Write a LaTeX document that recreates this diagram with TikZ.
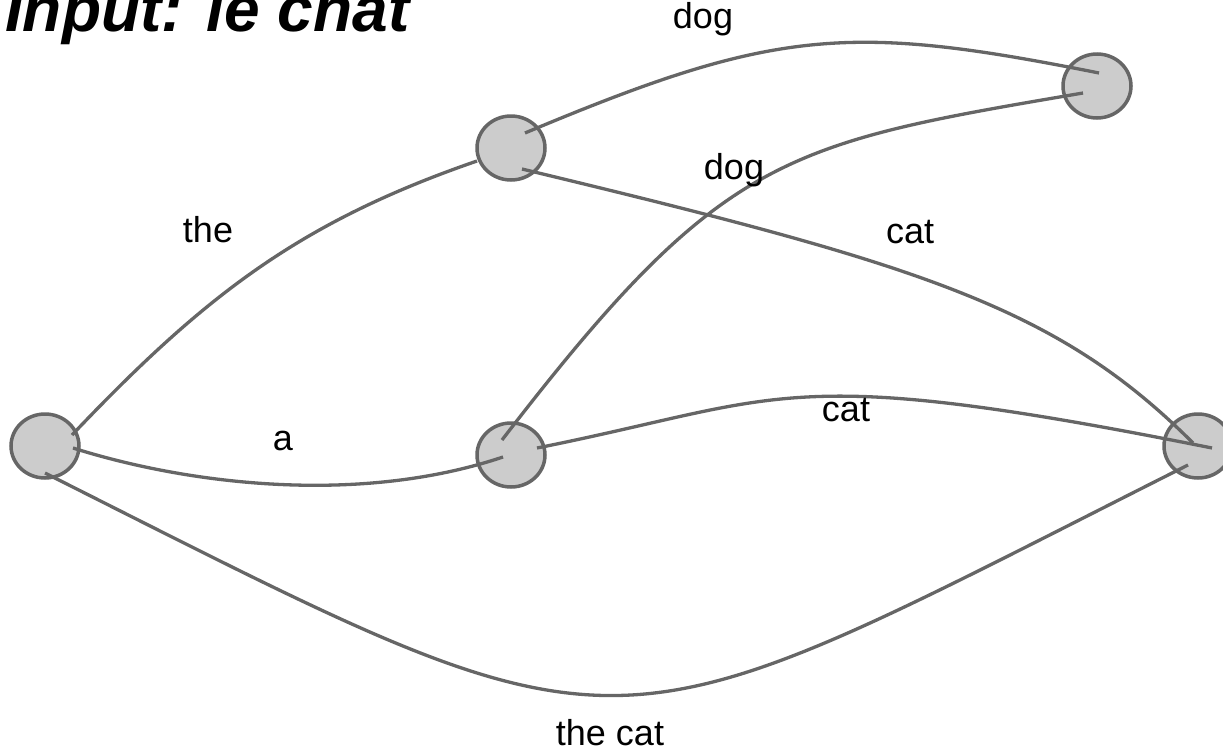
\documentclass[tikz,border=0pt]{standalone}
\usepackage{fontspec}
\setmainfont{Liberation Sans}
\usetikzlibrary{shapes.geometric,calc}
\definecolor{edgegray}{HTML}{666666}
\definecolor{nodefill}{HTML}{CCCCCC}
\tikzset{
  state/.style={ellipse, draw=edgegray, fill=nodefill, line width=3.5pt, minimum width=68pt, minimum height=64pt, inner sep=0pt},
  arc/.style={draw=edgegray, line width=3.3pt},
  lbl/.style={anchor=base, inner sep=0pt, font=\fontsize{36}{40}\selectfont},
  ttl/.style={anchor=base west, inner sep=0pt, font=\fontsize{64}{70}\selectfont\bfseries\itshape}
}
\begin{document}
\begin{tikzpicture}[x=1pt,y=-1pt]
\useasboundingbox (0,0) rectangle (1223,755);
\node[ttl] (title) at (5,31) {Input: le chat};
\node[state] (n0) at (45,446) {};
\node[state] (n1) at (511,148) {};
\node[state] (n2) at (1097,86) {};
\node[state] (n3) at (511,455) {};
\node[state] (n4) at (1198,446) {};
% edges
\draw[arc] ($(n0.center)+(27,-11)$) .. controls (205,295) and (300,222) .. ($(n1.center)+(-34,13)$);
\draw[arc] ($(n0.center)+(28,2)$) .. controls (190,485) and (360,505) .. ($(n3.center)+(-8,2)$);
\draw[arc] ($(n0.center)+(0,27)$) .. controls (645,775) and (588,767) .. ($(n4.center)+(-10,19)$);
\draw[arc] ($(n1.center)+(14,-15)$) .. controls (775,28) and (849,23) .. ($(n2.center)+(2,-13)$);
\draw[arc] ($(n1.center)+(11,21)$) .. controls (922,265) and (1057,307) .. ($(n4.center)+(-5,-3)$);
\draw[arc] ($(n3.center)+(-9,-15)$) .. controls (722,154) and (783,144) .. ($(n2.center)+(-14,7)$);
\draw[arc] ($(n3.center)+(26,-7)$) .. controls (787,398) and (782,362) .. ($(n4.center)+(14,2)$);
% labels
\node[lbl] (l1) at (208,242) {the};
\node[lbl] (l2) at (283,450) {a};
\node[lbl] (l3) at (610,745) {the cat};
\node[lbl] (l4) at (703,28) {dog};
\node[lbl] (l5) at (734,179) {dog};
\node[lbl] (l6) at (910,243) {cat};
\node[lbl] (l7) at (846,421) {cat};
\end{tikzpicture}
\end{document}
